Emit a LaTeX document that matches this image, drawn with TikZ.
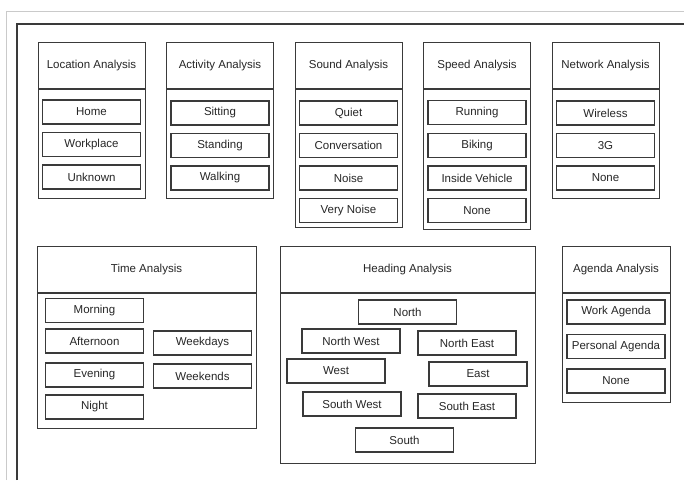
\documentclass[tikz,border=0pt]{standalone}
\usepackage{fontspec}
\setmainfont{Liberation Sans}
\usetikzlibrary{positioning}

\definecolor{linegray}{HTML}{3A3A3A}
\definecolor{framegray}{HTML}{CACACA}

\tikzstyle{headbox}=[
    draw=linegray,
    line width=1pt,
    minimum height=46pt,
    inner sep=0pt,
    anchor=north,
    text=black!85,
  ]
\tikzstyle{bodybox}=[
    draw=linegray,
    line width=1pt,
    inner sep=0pt,
  ]
\tikzstyle{item}=[
    draw=linegray,
    line width=1.2pt,
    minimum height=24pt,
    minimum width=98pt,
    inner sep=0pt,
    text=black!85,
  ]

\begin{document}
\begin{tikzpicture}[x=1pt, y=-1pt, font=\fontsize{11.5}{13}\selectfont]
      \useasboundingbox (0,0) rectangle (684,480);
      \draw[framegray, line width=1pt] (6.5,480) -- (6.5,11) -- (684,11);
      \draw[linegray, line width=1.2pt] (17,480) -- (17,24) -- (684,24);
      % group frames
      \foreach \name/\title/\x/\y/\w/\h in {loc/Location Analysis/91.5/42/107/109,
          act/Activity Analysis/220/42/107/109, snd/Sound Analysis/348.5/42/107/138,
          spd/Speed Analysis/477/42/107/140, net/Network Analysis/605.5/42/107/109,
          time/Time Analysis/146.5/246/219/135, head/Heading Analysis/407.5/246/255/170,
          agd/Agenda Analysis/616/246/108/109} {%
        \node[headbox, minimum width=\w pt] (\name) at (\x,\y) {\title};
        \node[bodybox, minimum width=\w pt, minimum height=\h pt, below=0pt of \name] (\name-body) {};
      }
      % items
      \foreach \t [count=\i] in {Home, Workplace, Unknown} {%
        \node[item] (loc-\i) at (91.5, {79.5+32.5*\i}) {\t};
      }
      \foreach \t [count=\i] in {Sitting, Standing, Walking} {%
        \node[item] (act-\i) at (220, {80.5+32.5*\i}) {\t};
      }
      \foreach \t [count=\i] in {Quiet, Conversation, Noise, Very Noise} {%
        \node[item] (snd-\i) at (348.5, {80.5+32.5*\i}) {\t};
      }
      \foreach \t [count=\i] in {Running, Biking, Inside Vehicle, None} {%
        \node[item] (spd-\i) at (477, {79.5+32.8*\i}) {\t};
      }
      \foreach \t [count=\i] in {Wireless, 3G, None} {%
        \node[item] (net-\i) at (605.5, {80.5+32.5*\i}) {\t};
      }
      \foreach \t/\y [count=\i] in {Morning/310.5, Afternoon/341, Evening/375, Night/407} {%
        \node[item] (time-\i) at (94.5, \y) {\t};
      }
      \node[item] (time-wd) at (202.5, 343) {Weekdays};
      \node[item] (time-we) at (202.5, 376) {Weekends};
      \foreach \t/\x/\y/\n in {North/407.5/312/n, North West/351/341/nw, North East/467/343/ne,
          West/336/371/w, East/478/374/e, South West/352/404/sw, South East/467/406/se,
          South/404.5/440/s} {%
        \node[item] (head-\n) at (\x, \y) {\t};
      }
      \foreach \t [count=\i] in {Work Agenda, Personal Agenda, None} {%
        \node[item] (agd-\i) at (616, {277.5+34.5*\i}) {\t};
      }
    \end{tikzpicture}
\end{document}
